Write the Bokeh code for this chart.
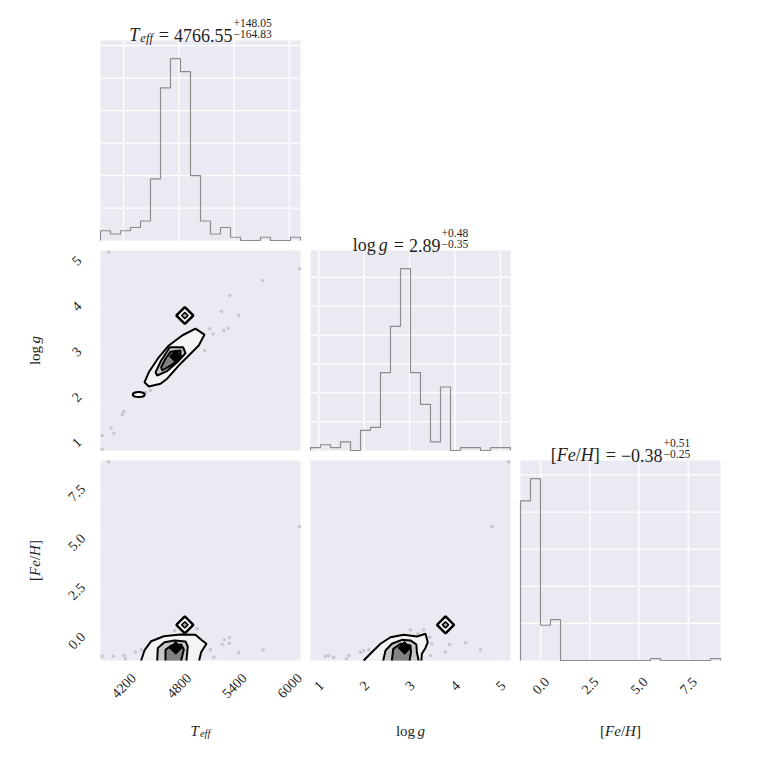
import numpy as np
from math import pi, cos, sin

from bokeh.plotting import figure
from bokeh.layouts import row, column
from bokeh.models import Range1d, Label, Spacer
from bokeh.embed import file_html
from bokeh.resources import INLINE

# posterior summaries: median, +err, -err
teff_med, teff_up, teff_lo = 4766.55, 148.05, 164.83
logg_med, logg_up, logg_lo = 2.89, 0.48, 0.35
feh_med, feh_up, feh_lo = -0.38, 0.51, 0.25

# reference point (double diamond)
ref_teff, ref_logg, ref_feh = 4865, 3.79, 0.79

# sample ranges, 20 bins each
teff_range = (3950, 6120)
logg_range = (0.82, 5.22)
feh_range = (-1.02, 9.14)

teff_counts = [3, 2, 3, 4, 6, 19, 47, 56, 52, 20, 6, 2, 4, 1, 0, 0, 1, 0, 0, 1]
logg_counts = [1, 2, 1, 3, 0, 7, 8, 27, 43, 63, 27, 16, 3, 22, 0, 1, 1, 0, 1, 1]
feh_counts = [86, 98, 19, 22, 0, 0, 0, 0, 0, 0, 0, 0, 0, 1, 0, 0, 0, 0, 0, 1]

teff_ticks = [4200, 4800, 5400, 6000]
teff_tick_labels = ["4200", "4800", "5400", "6000"]
logg_ticks = [1, 2, 3, 4, 5]
logg_tick_labels = ["1", "2", "3", "4", "5"]
feh_ticks = [0.0, 2.5, 5.0, 7.5]
feh_tick_labels = ["0.0", "2.5", "5.0", "7.5"]

teff_count_ticks = [10, 20, 30, 40, 50, 60]
logg_count_ticks = [10, 20, 30, 40, 50, 60]
feh_count_ticks = [20, 40, 60, 80, 100]

# samples outside the contours
tl_teff = [4040, 6110, 5710, 5352, 5262, 5450, 5136, 5287, 5335, 5172, 5081,
           4492, 4438, 4384, 4203, 4185, 4066, 4094, 3968, 3968]
tl_logg = [5.18, 4.82, 4.56, 4.23, 3.88, 3.79, 3.50, 3.46, 3.51, 3.39, 3.02,
           2.14, 2.10, 2.05, 1.68, 1.61, 1.32, 1.20, 1.15, 0.85]
tf_teff = [4040, 6110, 3968, 4088, 4203, 4221, 4330, 4391, 4753, 4999, 5143,
           5179, 5270, 5295, 5349, 5349, 5450, 5715]
tf_feh = [9.08, 5.79, -0.80, -0.80, -0.77, -0.93, -0.60, -0.48, 0.50, 0.59, -0.48,
          -0.85, -0.21, 0.03, 0.13, -0.14, -0.63, -0.48]
lf_logg = [5.18, 4.81, 1.15, 1.22, 1.33, 1.61, 1.66, 1.92, 1.99, 2.10, 3.02,
           3.18, 3.31, 3.44, 3.49, 3.46, 3.79, 3.88, 4.23, 4.56]
lf_feh = [9.08, 5.79, -0.80, -0.77, -0.85, -0.93, -0.77, -0.60, -0.51, -0.48, 0.54,
          0.34, 0.54, 0.16, -0.17, -0.77, -0.60, -0.21, -0.12, -0.48]

# contour levels (outer, middle, inner), Teff vs logg
tl_c1_x = [4980, 5078, 5016, 4818, 4673, 4601, 4474, 4427, 4474, 4582, 4691, 4836]
tl_c1_y = [3.50, 3.37, 3.13, 2.73, 2.40, 2.29, 2.23, 2.32, 2.54, 2.87, 3.13, 3.35]
tl_c2_x = [4702, 4847, 4872, 4782, 4666, 4565, 4547, 4608]
tl_c2_y = [3.09, 3.09, 2.96, 2.76, 2.56, 2.47, 2.54, 2.80]
tl_c3_x = [4709, 4818, 4818, 4727, 4619, 4608, 4655]
tl_c3_y = [2.99, 3.02, 2.86, 2.71, 2.58, 2.65, 2.84]
tl_island_teff, tl_island_logg = 4365, 2.05

# Teff vs [Fe/H] (open at the bottom edge)
tf_c1_x = [4391, 4427, 4500, 4637, 4818, 4980, 5053, 5100, 5042, 5020]
tf_c1_y = [-1.02, -0.51, -0.04, 0.21, 0.30, 0.29, 0.0, -0.17, -0.60, -1.02]
tf_c2_x = [4565, 4572, 4644, 4753, 4872, 4897, 4883]
tf_c2_y = [-1.02, -0.38, -0.09, 0.0, -0.05, -0.31, -1.02]
tf_c3_x = [4655, 4655, 4717, 4825, 4854, 4825]
tf_c3_y = [-1.02, -0.48, -0.26, -0.21, -0.46, -1.02]

# logg vs [Fe/H]
lf_c1_x = [1.99, 2.17, 2.36, 2.58, 2.87, 3.16, 3.35, 3.40, 3.35, 3.27, 3.26]
lf_c1_y = [-1.02, -0.60, -0.17, 0.16, 0.29, 0.20, 0.34, -0.09, -0.38, -0.68, -1.02]
lf_c2_x = [2.42, 2.47, 2.61, 2.83, 3.02, 3.15, 3.16, 3.20]
lf_c2_y = [-1.02, -0.51, -0.17, 0.03, 0.0, -0.21, -0.60, -1.02]
lf_c3_x = [2.61, 2.64, 2.80, 3.02, 3.03, 3.00]
lf_c3_y = [-1.02, -0.43, -0.17, -0.26, -0.60, -1.02]

FONT = "Liberation Serif"
TEXT = "#1e1e1e"
BG = "#EAEAF2"

# page layout in pixels: column strips, panel (axes box) positions
COL_X = [(0, 305), (305, 515), (515, 750)]
PANEL_X = [(100, 300), (310, 510), (520, 720)]
PANEL_Y = [(40, 240), (250, 450), (460, 660)]
cell_of = {}

W_REG = {".": .25, " ": .25, "=": .564, "+": .564, "\u2212": .564, "l": .278, "o": .5,
         "g": .5, "[": .333, "]": .333, "/": .278, "e": .444, "f": .333, "F": .556,
         "H": .722, "T": .611}
W_IT = {"T": .556, "e": .444, "f": .278, "g": .5, "F": .611, "H": .722}


def tw(s, size, italic):
    table = W_IT if italic else W_REG
    return sum(table.get(c, W_REG.get(c, .5)) for c in s) * size


def make_cell(r, c, cy, xr, yr):
    '''A figure covering a cell (page rows cy) of column c; data ranges map onto panel (r, c).'''
    (cx0, cx1), (cy0, cy1) = COL_X[c], cy
    (px0, px1), (py0, py1) = PANEL_X[c], PANEL_Y[r]
    kx = (xr[1] - xr[0]) / (px1 - px0)
    ky = (yr[1] - yr[0]) / (py1 - py0)
    p = figure(x_range=Range1d(xr[0] - (px0 - cx0) * kx, xr[1] + (cx1 - px1) * kx),
               y_range=Range1d(yr[0] - (cy1 - py1) * ky, yr[1] + (py0 - cy0) * ky),
               frame_width=cx1 - cx0, frame_height=cy1 - cy0, min_border=0,
               output_backend="svg", toolbar_location=None,
               background_fill_color=None, border_fill_color=None, outline_line_color=None)
    p.axis.visible = False
    p.grid.visible = False
    cell_of[p.id] = (cx0, cy1)
    p.quad(left=[xr[0]], right=[xr[1]], bottom=[yr[0]], top=[yr[1]],
           fill_color=BG, line_color=None)
    return p


def add_text(p, text, X, Y, size, italic=False, angle=0.0, align="left", baseline="alphabetic",
             x=None, y=None):
    cx0, cy1 = cell_of[p.id]
    p.add_layout(Label(x=X - cx0 if x is None else x, y=cy1 - Y if y is None else y,
                       x_units="screen" if x is None else "data",
                       y_units="screen" if y is None else "data",
                       text=text, angle=angle, text_font=FONT, text_font_size="%.1fpx" % size,
                       text_font_style="italic" if italic else "normal",
                       text_align=align, text_baseline=baseline, text_color=TEXT))


def put_math(p, pieces, X, Y, angle=0.0):
    '''Lay out text pieces (with scripts) centred on page position X, Y (Y = baseline).'''
    widths = []
    for pc in pieces:
        if pc[0] == "t":
            widths.append(tw(pc[1], pc[2], pc[3]))
        elif pc[0] == "gap":
            widths.append(pc[1])
        else:
            widths.append(max(tw(pc[1], pc[3], False), tw(pc[2], pc[3], False)))
    ca, sa = cos(angle), sin(angle)
    s = -sum(widths) / 2
    for pc, w in zip(pieces, widths):
        if pc[0] == "t":
            parts = [(pc[1], pc[2], pc[3], pc[4])]
        elif pc[0] == "stack":
            parts = [(pc[1], pc[3], False, pc[4]), (pc[2], pc[3], False, pc[5])]
        else:
            parts = []
        for text, size, italic, dy in parts:
            add_text(p, text, X + s * ca - dy * sa, Y - (s * sa + dy * ca), size, italic, angle)
        s += w


def fmt(v):
    return ("%.2f" % v).replace("-", "\u2212")


def title_pieces(name_pieces, med, up, lo):
    return name_pieces + [("gap", 6), ("t", "=", 18, False, 0), ("gap", 5),
                          ("t", fmt(med), 18, False, 0), ("gap", 1),
                          ("stack", "+" + fmt(up), "\u2212" + fmt(lo), 11.5, 12.5, 1.5)]


def hist_cell(r, c, cy, counts, rng, ticks, count_ticks):
    ymax = 1.1 * max(counts)
    p = make_cell(r, c, cy, rng, (0, ymax))
    p.segment(x0=ticks, y0=0, x1=ticks, y1=ymax, line_color="white", line_width=1.3)
    p.segment(x0=rng[0], y0=count_ticks, x1=rng[1], y1=count_ticks, line_color="white",
              line_width=1.3)
    edges = np.linspace(rng[0], rng[1], len(counts) + 1)
    xs = np.repeat(edges, 2)
    ys = np.concatenate([[0], np.repeat(counts, 2), [0]])
    p.line(xs, ys, line_color="#8c8c8c", line_width=1.2)
    return p


def scatter_cell(r, c, cy, xr, yr, xs, ys, contours, closed, med, ref):
    p = make_cell(r, c, cy, xr, yr)
    p.scatter(xs, ys, size=3.5, color="#c6c6cc", line_color=None)
    fills = ["#f4f4f4", "#c6c6c6", "#828282"]
    for (cx, cyy), fc in zip(contours, fills):
        if closed:
            p.patch(cx, cyy, fill_color=fc, line_color="black", line_width=2)
        else:
            p.patch(cx, cyy, fill_color=fc, line_color=None)
            p.line(cx, cyy, line_color="black", line_width=2)
    p.scatter([med[0]], [med[1]], marker="square", angle=pi / 4, size=9,
              fill_color="black", line_color="black")
    p.scatter([ref[0]], [ref[1]], marker="square", angle=pi / 4, size=12,
              fill_color="white", line_color="black", line_width=2.5)
    p.scatter([ref[0]], [ref[1]], marker="square", angle=pi / 4, size=4.5,
              fill_color="#a0a0a0", line_color="black", line_width=1.5)
    return p


def x_ticklabels(p, ticks, labels):
    for t, lbl in zip(ticks, labels):
        add_text(p, lbl, 0, 685, 14, angle=pi / 4, align="center", baseline="middle", x=t)


def y_ticklabels(p, ticks, labels):
    for t, lbl in zip(ticks, labels):
        add_text(p, lbl, 76, 0, 14, angle=pi / 4, align="center", baseline="middle", y=t)


teff_name = [("t", "T", 18, True, 0), ("gap", 1), ("t", "eff", 12.5, True, -3)]
logg_name = [("t", "log", 18, False, 0), ("gap", 3), ("t", "g", 18, True, 0)]
feh_name = [("t", "[", 18, False, 0), ("t", "Fe", 18, True, 0), ("t", "/", 18, False, 0),
            ("t", "H", 18, True, 0), ("t", "]", 18, False, 0)]

teff_axis = [("t", "T", 15, True, 0), ("gap", 1), ("t", "eff", 10.5, True, -2.5)]
logg_axis = [("t", "log", 15, False, 0), ("gap", 2.5), ("t", "g", 15, True, 0)]
feh_axis = [("t", "[", 15, False, 0), ("t", "Fe", 15, True, 0), ("t", "/", 15, False, 0),
            ("t", "H", 15, True, 0), ("t", "]", 15, False, 0)]

# diagonal histograms (each cell tall enough to hold its title)
f00 = hist_cell(0, 0, (0, 248), teff_counts, teff_range, teff_ticks, teff_count_ticks)
f11 = hist_cell(1, 1, (215, 458), logg_counts, logg_range, logg_ticks, logg_count_ticks)
f22 = hist_cell(2, 2, (425, 745), feh_counts, feh_range, feh_ticks, feh_count_ticks)
put_math(f00, title_pieces(teff_name, teff_med, teff_up, teff_lo), 200, 34.5)
put_math(f11, title_pieces(logg_name, logg_med, logg_up, logg_lo), 410, 244.5)
put_math(f22, title_pieces(feh_name, feh_med, feh_up, feh_lo), 620, 454.5)

# 2d panels
f10 = scatter_cell(1, 0, (248, 458), teff_range, logg_range, tl_teff, tl_logg,
                   [(tl_c1_x, tl_c1_y), (tl_c2_x, tl_c2_y), (tl_c3_x, tl_c3_y)], True,
                   (teff_med, logg_med), (ref_teff, ref_logg))
f10.ellipse(x=[tl_island_teff], y=[tl_island_logg], width=12, height=5, width_units="screen",
            height_units="screen", fill_color="white", line_color="black", line_width=2)

f20 = scatter_cell(2, 0, (458, 745), teff_range, feh_range, tf_teff, tf_feh,
                   [(tf_c1_x, tf_c1_y), (tf_c2_x, tf_c2_y), (tf_c3_x, tf_c3_y)], False,
                   (teff_med, feh_med), (ref_teff, ref_feh))

f21 = scatter_cell(2, 1, (458, 745), logg_range, feh_range, lf_logg, lf_feh,
                   [(lf_c1_x, lf_c1_y), (lf_c2_x, lf_c2_y), (lf_c3_x, lf_c3_y)], False,
                   (logg_med, feh_med), (ref_logg, ref_feh))

# tick labels and axis labels
x_ticklabels(f20, teff_ticks, teff_tick_labels)
x_ticklabels(f21, logg_ticks, logg_tick_labels)
x_ticklabels(f22, feh_ticks, feh_tick_labels)
y_ticklabels(f10, logg_ticks, logg_tick_labels)
y_ticklabels(f20, feh_ticks, feh_tick_labels)

put_math(f20, teff_axis, 200, 730)
put_math(f21, logg_axis, 410, 730)
put_math(f22, feh_axis, 620, 730)
put_math(f10, logg_axis, 34, 350, angle=pi / 2)
put_math(f20, feh_axis, 34, 560, angle=pi / 2)

layout = row(column(f00, f10, f20),
             column(Spacer(width=210, height=215), f11, f21),
             column(Spacer(width=235, height=425), f22))

open("out.html", "w").write(file_html(layout, INLINE))
